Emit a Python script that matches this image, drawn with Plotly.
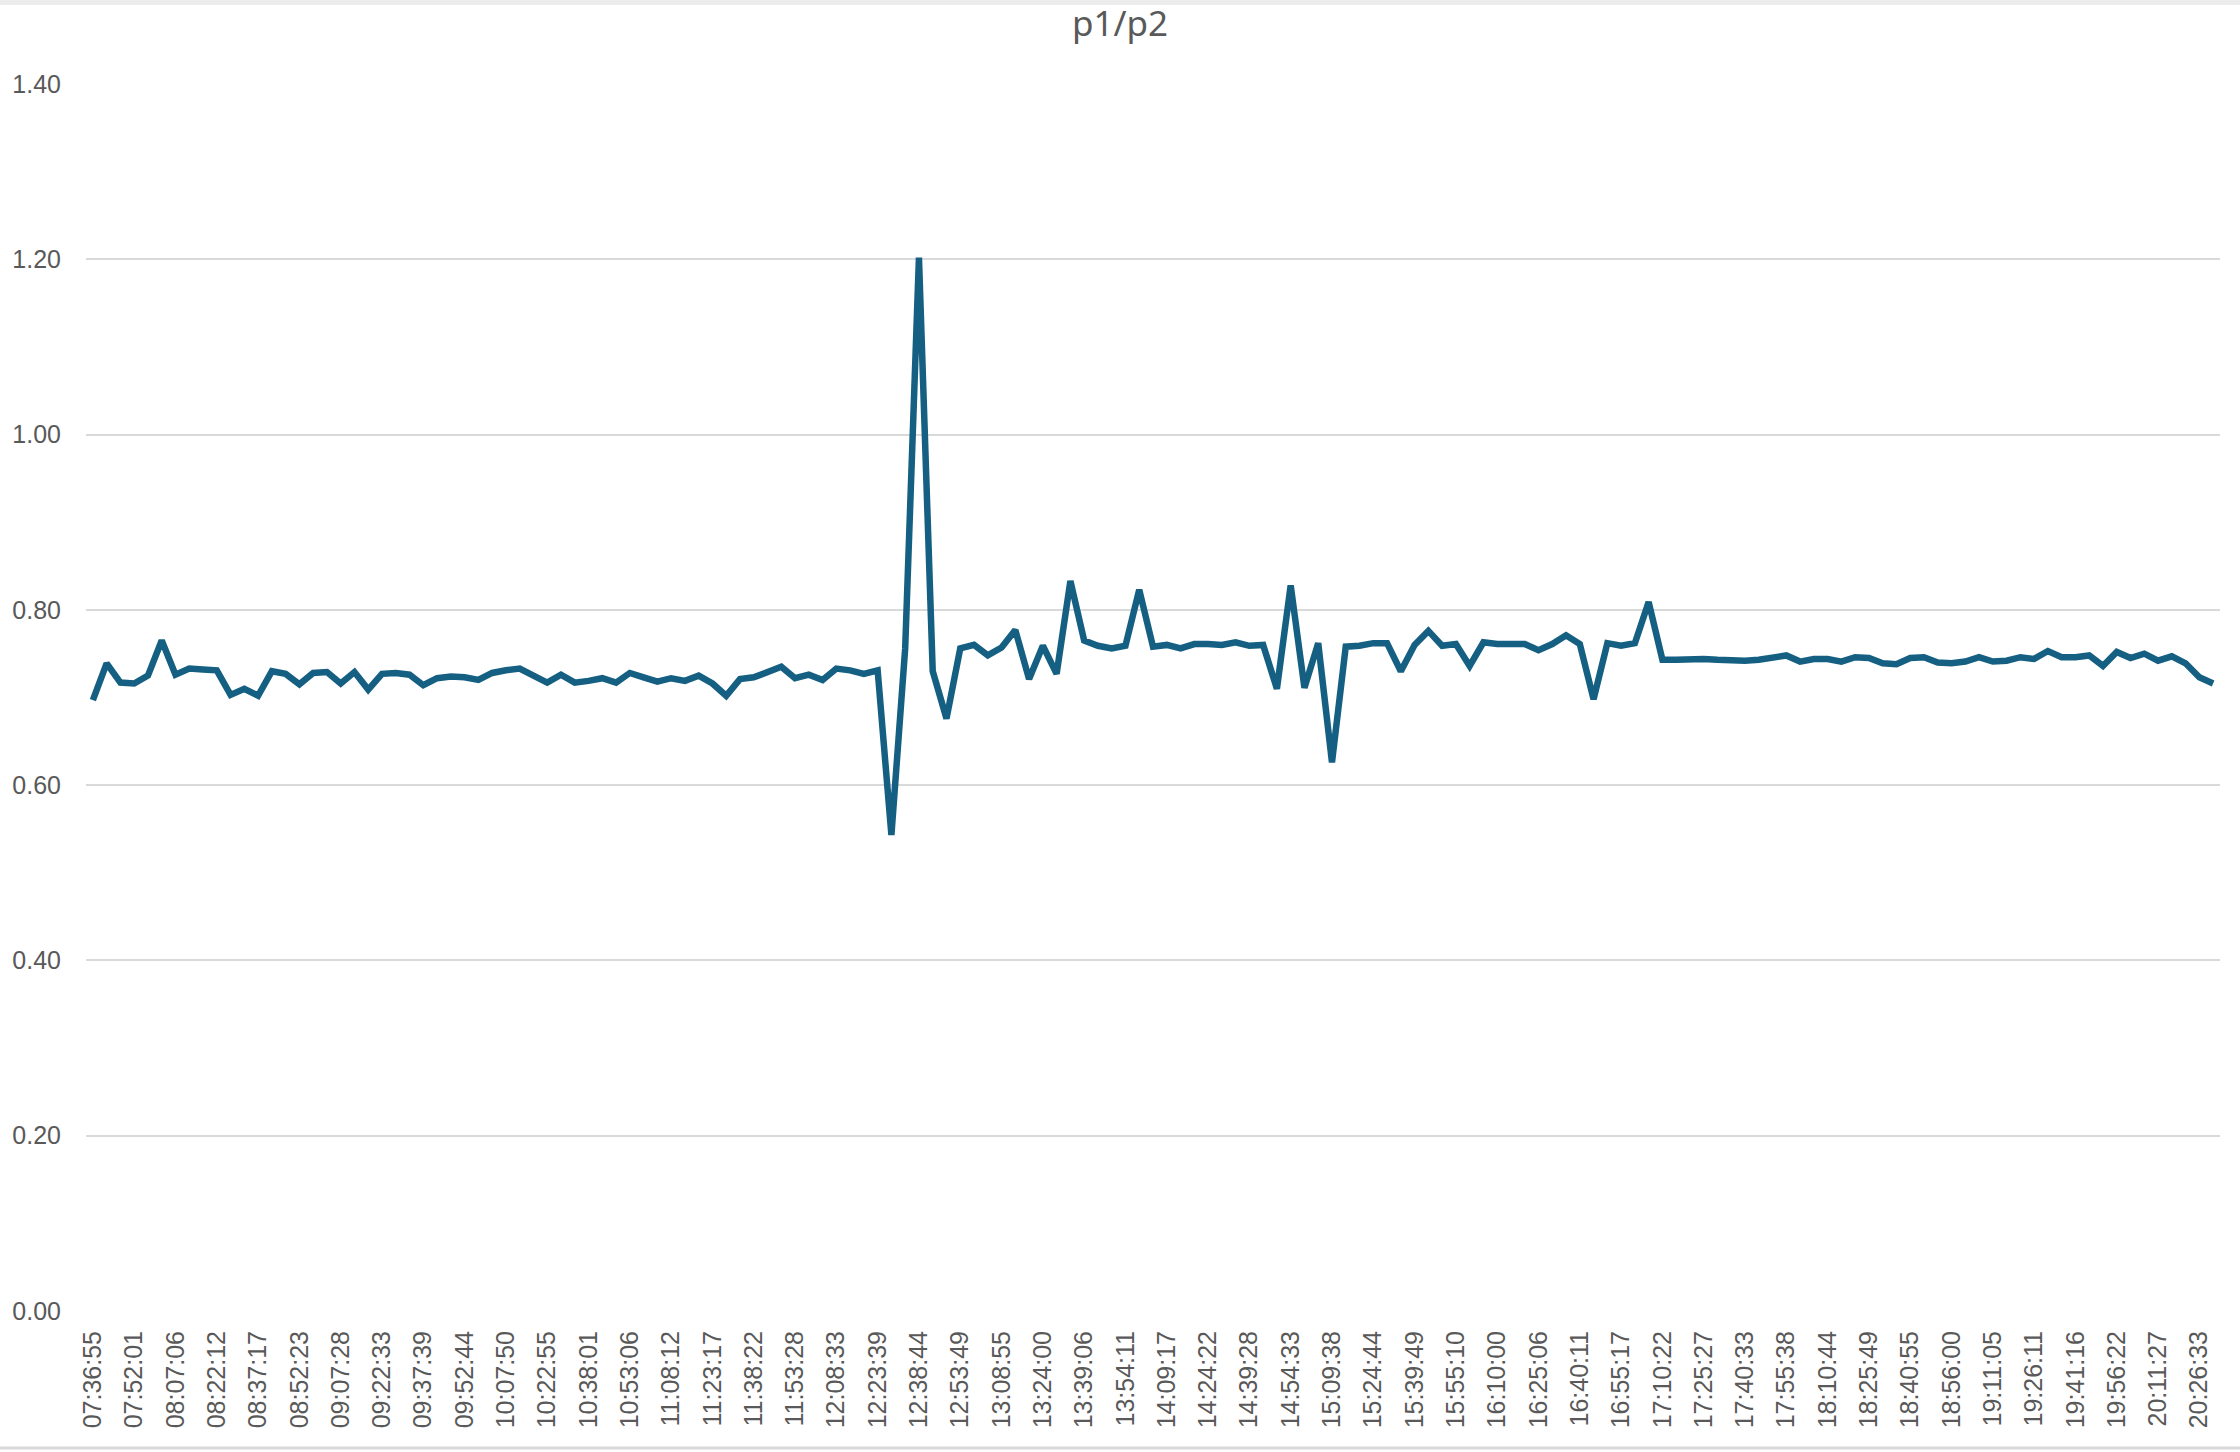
import plotly.graph_objects as go

# p1/p2 ratio sampled roughly every 5 minutes (155 samples)
ratio = [
    0.697, 0.739, 0.717, 0.716, 0.725, 0.765, 0.726, 0.733, 0.732, 0.731,
    0.703, 0.710, 0.702, 0.730, 0.727, 0.715, 0.728, 0.729, 0.716, 0.729,
    0.709, 0.727, 0.728, 0.726, 0.714, 0.722, 0.724, 0.723, 0.720, 0.728,
    0.731, 0.733, 0.725, 0.717, 0.726, 0.717, 0.719, 0.722, 0.717, 0.728,
    0.723, 0.718, 0.722, 0.719, 0.725, 0.716, 0.702, 0.721, 0.723, 0.729,
    0.735, 0.722, 0.726, 0.720, 0.733, 0.731, 0.727, 0.731, 0.543, 0.756,
    1.202, 0.730, 0.676, 0.756, 0.760, 0.748, 0.757, 0.777, 0.721, 0.759,
    0.727, 0.833, 0.765, 0.759, 0.756, 0.759, 0.823, 0.758, 0.760, 0.756,
    0.761, 0.761, 0.760, 0.763, 0.759, 0.760, 0.710, 0.828, 0.711, 0.762,
    0.626, 0.758, 0.759, 0.762, 0.762, 0.730, 0.760, 0.776, 0.759, 0.761,
    0.736, 0.763, 0.761, 0.761, 0.761, 0.754, 0.761, 0.771, 0.761, 0.698,
    0.762, 0.759, 0.762, 0.809, 0.743, 0.743, 0.744, 0.744, 0.743, 0.742,
    0.742, 0.743, 0.745, 0.748, 0.741, 0.744, 0.744, 0.741, 0.746, 0.745,
    0.739, 0.738, 0.745, 0.746, 0.740, 0.739, 0.741, 0.746, 0.741, 0.742,
    0.746, 0.744, 0.753, 0.746, 0.746, 0.748, 0.736, 0.752, 0.745, 0.750,
    0.742, 0.747, 0.739, 0.723, 0.716,
]

# labelled times, one label for every third sample
time_labels = [
    "07:36:55", "07:52:01", "08:07:06", "08:22:12", "08:37:17", "08:52:23",
    "09:07:28", "09:22:33", "09:37:39", "09:52:44", "10:07:50", "10:22:55",
    "10:38:01", "10:53:06", "11:08:12", "11:23:17", "11:38:22", "11:53:28",
    "12:08:33", "12:23:39", "12:38:44", "12:53:49", "13:08:55", "13:24:00",
    "13:39:06", "13:54:11", "14:09:17", "14:24:22", "14:39:28", "14:54:33",
    "15:09:38", "15:24:44", "15:39:49", "15:55:10", "16:10:00", "16:25:06",
    "16:40:11", "16:55:17", "17:10:22", "17:25:27", "17:40:33", "17:55:38",
    "18:10:44", "18:25:49", "18:40:55", "18:56:00", "19:11:05", "19:26:11",
    "19:41:16", "19:56:22", "20:11:27", "20:26:33",
]
label_step = 3

y_ticks = [0.0, 0.2, 0.4, 0.6, 0.8, 1.0, 1.2, 1.4]

W, H = 2240, 1452
ml, mr, mt, mb = 86, 20, 84, 141
text_grey = "#595959"
grid_grey = "#d9d9d9"

x_pos = list(range(len(ratio)))

fig = go.Figure()
fig.add_trace(go.Scatter(
    x=x_pos, y=ratio,
    mode="lines",
    line=dict(color="#156082", width=6.5),
    hoverinfo="skip",
    showlegend=False,
))

fig.update_layout(
    width=W, height=H,
    margin=dict(l=ml, r=mr, t=mt, b=mb),
    paper_bgcolor="white",
    plot_bgcolor="white",
    title=dict(
        text="p1/p2",
        x=0.5, xanchor="center",
        y=1 - 24 / H, yanchor="middle",
        font=dict(family="Noto Sans", size=35, color=text_grey),
    ),
    xaxis=dict(
        range=[-0.5, len(ratio) - 0.5],
        tickmode="array",
        tickvals=x_pos[::label_step],
        ticktext=time_labels,
        tickangle=-90,
        showgrid=False,
        zeroline=False,
        showline=False,
        ticks="",
        ticklabelstandoff=14,
        tickfont=dict(family="Liberation Sans", size=25, color=text_grey),
    ),
    yaxis=dict(
        range=[0, 1.4],
        tickmode="array",
        tickvals=y_ticks,
        ticktext=["%.2f" % v for v in y_ticks],
        showgrid=True,
        gridcolor=grid_grey,
        gridwidth=2,
        zeroline=False,
        showline=False,
        ticks="",
        ticklabelstandoff=24,
        tickfont=dict(family="Liberation Sans", size=25, color=text_grey),
    ),
)

# thin frame bands at the very top and bottom of the picture
ph = H - mt - mb
fig.add_shape(type="rect", xref="paper", yref="paper",
              x0=-ml / (W - ml - mr), x1=1 + mr / (W - ml - mr),
              y0=1 + (mt - 5) / ph, y1=1 + mt / ph,
              line=dict(width=0), fillcolor="#ececec", layer="below")
fig.add_shape(type="line", xref="paper", yref="paper",
              x0=-ml / (W - ml - mr), x1=1 + mr / (W - ml - mr),
              y0=-(mb - 4) / ph, y1=-(mb - 4) / ph,
              line=dict(color=grid_grey, width=3))

# drop the browser's default body margin so the chart sits at the page corner
fig.write_html("out.html", config={"displayModeBar": False},
               post_script="document.body.style.margin='0';")
